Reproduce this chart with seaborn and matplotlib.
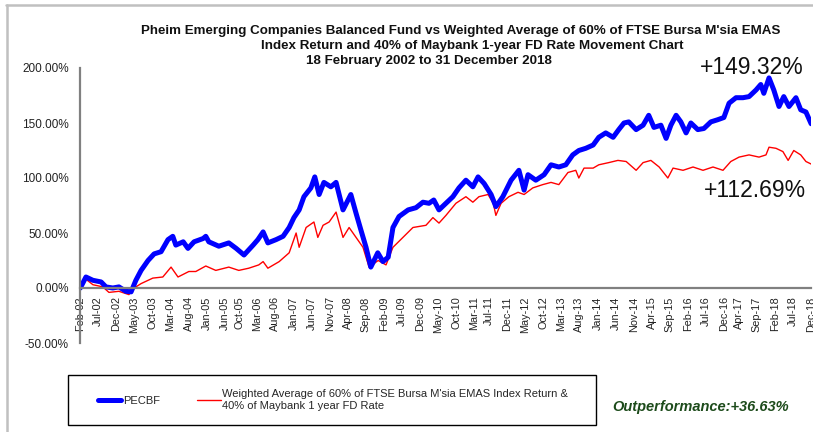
# Libraries
import pandas as pd
import seaborn as sns
import matplotlib.pyplot as plt
from matplotlib.patches import Rectangle
from matplotlib.lines import Line2D

# Data (time in decimal years, cumulative return in %)
fund_time = [2002.09, 2002.22, 2002.38, 2002.57, 2002.68, 2002.84, 2002.98, 2003.14, 2003.26, 2003.37,
             2003.49, 2003.65, 2003.79, 2003.95, 2004.11, 2004.22, 2004.29, 2004.46, 2004.57, 2004.71,
             2004.92, 2004.98, 2005.05, 2005.28, 2005.51, 2005.68, 2005.86, 2006.07, 2006.18, 2006.30,
             2006.41, 2006.60, 2006.76, 2006.90, 2007.01, 2007.13, 2007.24, 2007.40, 2007.49, 2007.59,
             2007.70, 2007.86, 2007.98, 2008.14, 2008.32, 2008.44, 2008.55, 2008.67, 2008.78, 2008.94,
             2009.06, 2009.18, 2009.29, 2009.43, 2009.64, 2009.82, 2009.98, 2010.12, 2010.23, 2010.35,
             2010.51, 2010.67, 2010.81, 2010.97, 2011.13, 2011.25, 2011.39, 2011.55, 2011.66, 2011.82,
             2012.01, 2012.19, 2012.31, 2012.40, 2012.58, 2012.77, 2012.93, 2013.11, 2013.27, 2013.43,
             2013.57, 2013.73, 2013.90, 2014.03, 2014.19, 2014.36, 2014.49, 2014.61, 2014.72, 2014.89,
             2015.05, 2015.18, 2015.30, 2015.46, 2015.58, 2015.69, 2015.81, 2015.92, 2016.04, 2016.15,
             2016.31, 2016.45, 2016.61, 2016.77, 2016.91, 2017.03, 2017.19, 2017.35, 2017.49, 2017.65,
             2017.76, 2017.83, 2017.95, 2018.06, 2018.18, 2018.29, 2018.41, 2018.57, 2018.68, 2018.80,
             2018.92]
fund_value = [0, 10, 7, 5.5, 1, 0, 1, -3, -3.5, 7,
              16, 25, 31, 33, 44, 47, 39, 42, 36, 42,
              45, 47, 42, 38, 41, 36, 30, 39, 44, 51,
              41, 44, 47, 55, 64, 71, 83, 91, 101, 85,
              96, 92, 96, 71, 85, 68, 53, 37, 19, 32,
              24, 28, 55, 65, 71, 73, 78, 77, 80, 71,
              77, 83, 91, 98, 92, 101, 95, 85, 74, 83,
              98, 107, 89, 103, 98, 103, 112, 110, 112, 121,
              125, 127, 130, 137, 141, 137, 144, 150, 151, 144,
              148, 157, 146, 148, 136, 148, 157, 151, 141, 150,
              144, 145, 151, 153, 155, 168, 173, 173, 174, 180,
              185, 177, 191, 180, 165, 174, 165, 173, 162, 160,
              149.32]

bench_time = [2002.09, 2002.22, 2002.38, 2002.61, 2002.75, 2002.98, 2003.21, 2003.33, 2003.49, 2003.76,
              2003.99, 2004.18, 2004.34, 2004.59, 2004.75, 2004.98, 2005.21, 2005.51, 2005.74, 2005.97,
              2006.20, 2006.30, 2006.41, 2006.67, 2006.90, 2007.06, 2007.13, 2007.29, 2007.47, 2007.56,
              2007.68, 2007.82, 2007.98, 2008.14, 2008.28, 2008.44, 2008.60, 2008.74, 2008.95, 2009.13,
              2009.29, 2009.52, 2009.75, 2010.05, 2010.21, 2010.35, 2010.51, 2010.74, 2010.97, 2011.13,
              2011.27, 2011.48, 2011.60, 2011.66, 2011.78, 2011.96, 2012.17, 2012.31, 2012.51, 2012.74,
              2012.93, 2013.11, 2013.32, 2013.50, 2013.57, 2013.69, 2013.90, 2014.03, 2014.26, 2014.47,
              2014.66, 2014.89, 2015.05, 2015.23, 2015.42, 2015.62, 2015.74, 2015.97, 2016.20, 2016.43,
              2016.66, 2016.89, 2017.07, 2017.26, 2017.49, 2017.72, 2017.88, 2017.95, 2018.11, 2018.27,
              2018.39, 2018.52, 2018.68, 2018.80, 2018.92]
bench_value = [0, 8, 3, 1, -4, -3, -6, 0, 4, 9,
               10, 19, 10, 15, 15, 20, 16, 19, 16, 18,
               21, 24, 18, 24, 32, 50, 37, 55, 60, 46,
               57, 60, 69, 46, 55, 46, 37, 19, 25, 21,
               37, 46, 55, 57, 64, 59, 66, 77, 83, 78,
               83, 85, 77, 66, 77, 83, 87, 85, 91, 94,
               96, 94, 105, 107, 100, 109, 109, 112, 114, 116,
               115, 107, 114, 116, 110, 100, 109, 107, 110, 107,
               110, 107, 115, 119, 121, 119, 121, 128, 127, 124,
               116, 125, 121, 115, 112.69]

tick_labels = ["Feb-02", "Jul-02", "Dec-02", "May-03", "Oct-03", "Mar-04", "Aug-04", "Jan-05", "Jun-05",
               "Oct-05", "Mar-06", "Aug-06", "Jan-07", "Jun-07", "Nov-07", "Apr-08", "Sep-08", "Feb-09",
               "Jul-09", "Dec-09", "May-10", "Oct-10", "Mar-11", "Jul-11", "Dec-11", "May-12", "Oct-12",
               "Mar-13", "Aug-13", "Jan-14", "Jun-14", "Nov-14", "Apr-15", "Sep-15", "Feb-16", "Jul-16",
               "Dec-16", "Apr-17", "Sep-17", "Feb-18", "Jul-18", "Dec-18"]

fund_name = "PECBF"
bench_name = "Weighted Average of 60% of FTSE Bursa M'sia EMAS Index Return &\n40% of Maybank 1 year FD Rate"

# dataframes
df_fund = pd.DataFrame({"time": fund_time, "value": fund_value})
df_bench = pd.DataFrame({"time": bench_time, "value": bench_value})

months = ["Jan", "Feb", "Mar", "Apr", "May", "Jun", "Jul", "Aug", "Sep", "Oct", "Nov", "Dec"]
tick_pos = [2000 + int(s[4:]) + months.index(s[:3]) / 12 for s in tick_labels]

# Style
sns.set_style("white")
plt.rcParams["font.family"] = ["Liberation Sans", "DejaVu Sans"]

W, H = 813, 432
fig = plt.figure(figsize=(W / 100, H / 100), dpi=100)
ax = fig.add_axes([80 / W, 1 - 343 / H, 731 / W, 275 / H])

sns.lineplot(data=df_bench, x="time", y="value", color="#ff0000", linewidth=1.0, ax=ax)
sns.lineplot(data=df_fund, x="time", y="value", color="#0000ff", linewidth=3.6, ax=ax)

# spines first (set_position resets the ticks)
for s in ["top", "right"]:
    ax.spines[s].set_visible(False)
ax.spines["bottom"].set_position(("data", 0))
ax.spines["left"].set_color("#808080")
ax.spines["bottom"].set_color("#808080")
ax.spines["left"].set_linewidth(1.6)
ax.spines["bottom"].set_linewidth(1.6)

ax.set_xlim(tick_pos[0], tick_pos[-1])
ax.set_ylim(-50, 200)
ax.set_yticks([-50, 0, 50, 100, 150, 200])
ax.set_yticklabels([f"{v:.2f}%" for v in [-50, 0, 50, 100, 150, 200]], fontsize=8.5, color="#222222")
ax.set_xticks(tick_pos)
ax.set_xticklabels(tick_labels, rotation=90, fontsize=7.8, color="#222222")
ax.set_xlabel("")
ax.set_ylabel("")
ax.tick_params(axis="y", direction="out", length=5, width=1.2, color="#808080", pad=3)
ax.tick_params(axis="x", direction="out", length=4, width=1.2, color="#808080", pad=2)

# Title lines
title_font = dict(fontsize=9.6, fontweight="bold", ha="center", va="center", color="#111111")
fig.text(461 / W, 1 - 31 / H, "Pheim Emerging Companies Balanced Fund vs Weighted Average of 60% of FTSE Bursa M'sia EMAS", **title_font)
fig.text(472 / W, 1 - 46 / H, "Index Return and 40% of Maybank 1-year FD Rate Movement Chart", **title_font)
fig.text(429 / W, 1 - 61 / H, "18 February 2002 to 31 December 2018", **title_font)

# End values
fig.text(752 / W, 1 - 68 / H, "+149.32%", fontsize=16.5, ha="center", va="center", color="#111111")
fig.text(755 / W, 1 - 190 / H, "+112.69%", fontsize=16.5, ha="center", va="center", color="#111111")

# Legend box
fig.patches.append(Rectangle((68 / W, 1 - 425 / H), 528 / W, 50 / H, transform=fig.transFigure,
                             fill=False, edgecolor="black", linewidth=1.0))
handles = [Line2D([], [], color="#0000ff", linewidth=3.6), Line2D([], [], color="#ff0000", linewidth=1.0)]
fig.legend(handles, [fund_name, bench_name], ncol=2, frameon=False, fontsize=8,
           loc="center", bbox_to_anchor=(333 / W, 1 - 400 / H),
           handlelength=2.1, handletextpad=0.15, columnspacing=3.4)

fig.text(612 / W, 1 - 407 / H, "Outperformance:+36.63%", fontsize=10.5, fontweight="bold",
         fontstyle="italic", color="#1d4b1b", ha="left", va="center")

# Grey frame on the left and top
fig.add_artist(Line2D([7 / W, 7 / W], [0, 1 - 5 / H], transform=fig.transFigure, color="#c0c0c0", linewidth=1.8))
fig.add_artist(Line2D([6 / W, 1], [1 - 5 / H, 1 - 5 / H], transform=fig.transFigure, color="#c0c0c0", linewidth=1.8))

plt.savefig("out.png", dpi=100)
